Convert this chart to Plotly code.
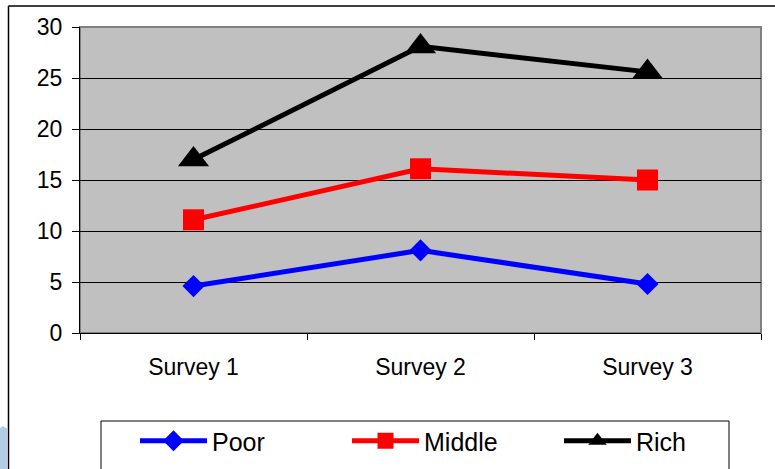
import plotly.graph_objects as go

# Survey results by income group
surveys = ["Survey 1", "Survey 2", "Survey 3"]
poor = [4.6, 8.1, 4.8]
middle = [11.1, 16.1, 15.0]
rich = [17.0, 28.1, 25.6]

W, H = 775, 469
L, R, T, B = 80, 761, 27, 333  # plot area edges in pixels


def fx(x):
    """pixel column -> paper x"""
    return x / W


def fy(y):
    """pixel row -> paper y"""
    return 1 - y / H


FONT = "Arial, Liberation Sans, sans-serif"

fig = go.Figure()
fig.add_trace(go.Scatter(
    x=surveys, y=poor, name="Poor", mode="lines+markers",
    line=dict(color="#0000FF", width=5),
    marker=dict(symbol="diamond", size=17, color="#0000FF"),
))
fig.add_trace(go.Scatter(
    x=surveys, y=middle, name="Middle", mode="lines+markers",
    line=dict(color="#FF0000", width=5),
    marker=dict(symbol="square", size=21, color="#FF0000"),
))
fig.add_trace(go.Scatter(
    x=surveys, y=rich, name="Rich", mode="lines+markers",
    line=dict(color="#000000", width=5),
    marker=dict(symbol="triangle-up", size=27, color="#000000"),
))

shapes = [
    # plot frame (top/right in grey)
    dict(type="rect", xref="paper", yref="paper",
         x0=fx(L), x1=fx(R), y0=fy(B), y1=fy(T),
         line=dict(color="#808080", width=2), layer="below"),
    # outer chart border
    dict(type="line", xref="paper", yref="paper",
         x0=fx(8.5), x1=fx(W + 5), y0=fy(6), y1=fy(6),
         line=dict(color="#000000", width=1.5)),
    dict(type="line", xref="paper", yref="paper",
         x0=fx(8.5), x1=fx(8.5), y0=fy(6), y1=fy(H + 5),
         line=dict(color="#000000", width=1.5)),
    # legend box
    dict(type="rect", xref="paper", yref="paper",
         x0=fx(101), x1=fx(729), y0=fy(421), y1=fy(H + 20),
         line=dict(color="#000000", width=1), fillcolor="white", layer="below"),
    # decoration at lower left
    dict(type="path", xref="paper", yref="paper",
         path=f"M {fx(0)},{fy(428)} L {fx(3)},{fy(426)} L {fx(7.5)},{fy(429)} "
              f"L {fx(7.5)},{fy(H)} L {fx(0)},{fy(H)} Z",
         fillcolor="#b3cde3", line=dict(width=0)),
]

fig.update_layout(
    width=W, height=H,
    margin=dict(l=0, r=0, t=0, b=0, autoexpand=False),
    paper_bgcolor="white",
    plot_bgcolor="#C0C0C0",
    font=dict(family=FONT, size=23, color="#000000"),
    showlegend=True,
    legend=dict(
        orientation="h", x=fx(135), y=fy(418), xanchor="left", yanchor="top",
        bgcolor="rgba(0,0,0,0)", borderwidth=0,
        font=dict(size=25), itemwidth=67,
        entrywidth=130, entrywidthmode="pixels",
    ),
    shapes=shapes,
    xaxis=dict(
        type="category", domain=[fx(L), fx(R)], showgrid=False, zeroline=False,
        showline=True, linecolor="#000000", linewidth=1,
        ticks="outside", tickson="boundaries", ticklen=6, tickcolor="#000000",
        ticklabelstandoff=13, range=[-0.5, 2.5],
    ),
    yaxis=dict(
        domain=[fy(B), fy(T)],
        range=[0, 30], dtick=5, showgrid=True, gridcolor="#000000", gridwidth=1,
        zeroline=False, showline=True, linecolor="#000000", linewidth=1,
        ticks="outside", ticklen=7, tickcolor="#000000", ticklabelstandoff=5,
    ),
)

fig.write_html("out.html")
